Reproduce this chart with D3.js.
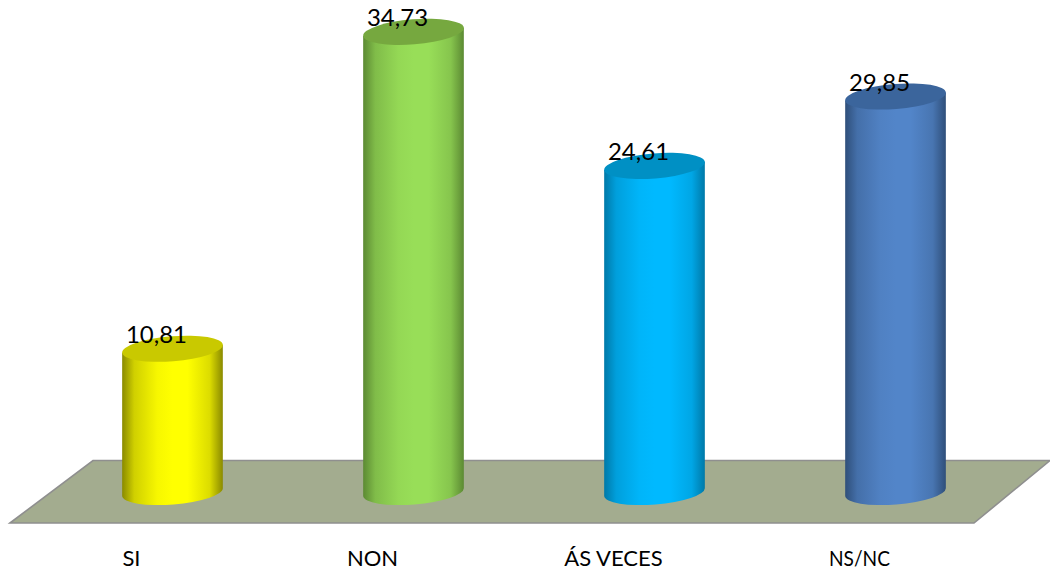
<!DOCTYPE html>
<html><head><meta charset="utf-8">
<script src="https://cdn.jsdelivr.net/npm/d3@7/dist/d3.min.js"></script>
<style>html,body{margin:0;padding:0;background:#fff;overflow:hidden}svg{display:block}</style>
</head><body><svg id="c" width="1050" height="571"></svg>
<script>
const categories = ["SI","NON","ÁS VECES","NS/NC"];
const values = [10.81,34.73,24.61,29.85];
const valueLabels = ["10,81","34,73","24,61","29,85"];
const sideMain = ["#ffff00","#98de58","#00b9ff","#5285c9"];
const sideEdge = ["#8a8a00","#5c8a33","#0079a8","#2f4f7a"];
const topFace = ["#c9c900","#76a83f","#0090c4","#3b659c"];

const svg=d3.select("#c");
const x=d3.scaleBand().domain(categories).range([122,946]).paddingInner(0.581).paddingOuter(0);
const y=d3.scaleLinear().domain([0,40]).range([492,-38]);
const rx=x.bandwidth()/2, ry=12.5, rot=-4.6, dx=rx*Math.cos(rot*Math.PI/180), dy=rx*Math.sin(rot*Math.PI/180);

// floor
svg.append("polygon").attr("points",[[10,523],[93,460.5],[1050,460.5],[974,523]].map(p=>p.join(",")).join(" "))
  .attr("fill","#a3ac8f").attr("stroke","#8f8f8f").attr("stroke-width",1.6);

const defs=svg.append("defs");
categories.forEach((c,i)=>{
  const g=defs.append("linearGradient").attr("id","g"+i);
  [[0,sideEdge[i]],[0.12,d3.interpolateRgb(sideEdge[i],sideMain[i])(0.6)],[0.35,d3.interpolateRgb(sideEdge[i],sideMain[i])(0.93)],[0.5,sideMain[i]],[0.65,sideMain[i]],[0.87,d3.interpolateRgb(sideEdge[i],sideMain[i])(0.7)],[1,sideEdge[i]]]
   .forEach(s=>g.append("stop").attr("offset",s[0]).attr("stop-color",s[1]));
});

const cyl=svg.selectAll("g.cyl").data(categories).join("g").attr("class","cyl");
cyl.append("path").attr("fill",(d,i)=>`url(#g${i})`).attr("d",(d,i)=>{
  const cx=x(d)+rx, t=y(values[i]), b=y(0);
  return `M${cx-dx},${t-dy}L${cx-dx},${b-dy}A${rx},${ry} ${rot} 0 0 ${cx+dx},${b+dy}L${cx+dx},${t+dy}Z`;
});
cyl.append("ellipse").attr("rx",rx).attr("ry",ry).attr("fill",(d,i)=>topFace[i])
  .attr("transform",(d,i)=>`translate(${x(d)+rx},${y(values[i])}) rotate(${rot})`);
cyl.append("text").attr("x",d=>x(d)+rx-16).attr("y",(d,i)=>y(values[i])-5.5)
  .attr("text-anchor","middle").attr("font-family","Lato").attr("font-size",24).attr("fill","#000")
  .text((d,i)=>valueLabels[i]);
svg.selectAll("text.cat").data(categories).join("text").attr("class","cat")
  .attr("x",d=>x(d)+rx-41).attr("y",566).attr("text-anchor","middle")
  .attr("font-family","Lato").attr("font-size",22).attr("fill","#000").text(d=>d)
  .filter(d=>d==="NS/NC").attr("dx",5).attr("textLength",61).attr("lengthAdjust","spacingAndGlyphs");
</script></body></html>
